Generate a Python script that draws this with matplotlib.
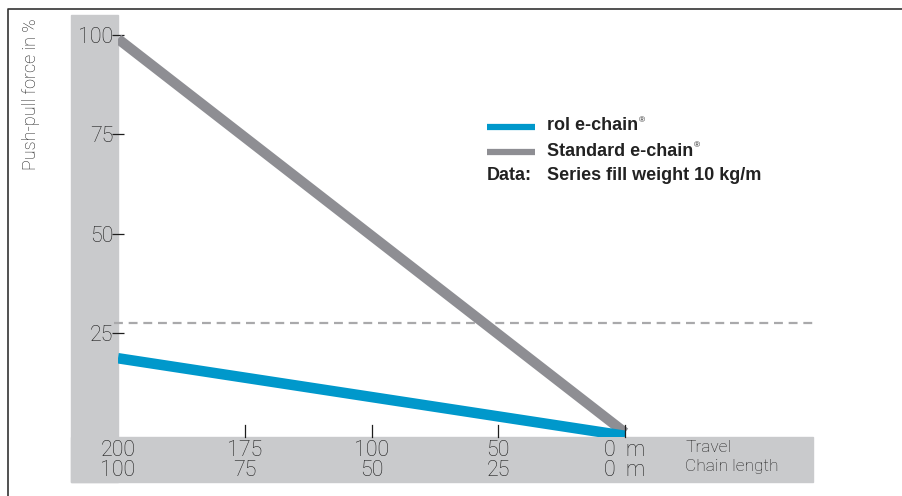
import matplotlib.pyplot as plt
from matplotlib.patches import Rectangle
from matplotlib.lines import Line2D
from matplotlib.transforms import blended_transform_factory

# data
x_pos = [0, 1, 2, 3, 4]
travel_labels = ["200", "175", "100", "50", "0  m"]
chain_labels = ["100", "75", "50", "25", "0  m"]
rol_x = [0, 4]
rol_force = [18.7, -0.8]
std_x = [0, 4]
std_force = [99, 0]
limit_force = 27.6
y_ticks = [25, 50, 75, 100]

W, H = 902, 496
BLUE = "#0098cb"
GREY = "#8e8e93"
BAND = "#c9cacc"
TXT = "#1e1e1e"
THIN = ["Roboto", "DejaVu Sans"]
LEG = "#222222"


def fx(px):
    return px / W


def fy(py):
    return 1 - py / H


fig = plt.figure(figsize=(W / 100, H / 100), dpi=100)
plt.rcParams["font.family"] = ["Liberation Sans", "DejaVu Sans"]

# grey bands behind the axes
fig.add_artist(Rectangle((fx(71), fy(482)), fx(118) - fx(71), fy(15) - fy(482),
                         transform=fig.transFigure, color=BAND, zorder=0))
fig.add_artist(Rectangle((fx(71), fy(482)), fx(813) - fx(71), fy(437) - fy(482),
                         transform=fig.transFigure, color=BAND, zorder=0))

# outer frame (top + left)
fig.add_artist(Line2D([fx(8), fx(8), 1], [0, fy(9), fy(9)], transform=fig.transFigure,
                      color="#333333", lw=1.2))

ax = fig.add_axes([fx(118), fy(437), fx(813) - fx(118), fy(15) - fy(437)])
ax.patch.set_alpha(0)
ax.set_xlim(0, (813 - 118) / 126.75)
ax.set_ylim(-1.1, 105.0)
for s in ax.spines.values():
    s.set_visible(False)

ax.axhline(limit_force, xmin=-0.006, color="#a9a9ab", lw=1.6, ls=(0, (4, 2.6)),
           clip_on=False, zorder=1)
ax.plot(std_x, std_force, color=GREY, lw=7.4, solid_capstyle="butt", zorder=2)
ax.plot(rol_x, rol_force, color=BLUE, lw=7.6, solid_capstyle="butt", zorder=3)

ax.set_yticks(y_ticks)
ax.set_yticklabels([str(v) for v in y_ticks], family=THIN, fontweight="light")
ax.tick_params(axis="y", direction="inout", length=8.5, width=0.9, color=TXT,
               labelsize=15.5, labelcolor=TXT, pad=-1)
ax.set_xticks([])

# x ticks as short marks crossing the band edge
for xp in x_pos[1:]:
    ax.plot([xp, xp], [2.0, -1.1], color=TXT, lw=0.9, clip_on=False, zorder=4)

tr = blended_transform_factory(ax.transData, fig.transFigure)
for xp, t1, t2 in zip(x_pos, travel_labels, chain_labels):
    ax.text(xp, fy(451), t1, transform=tr, ha="center", va="center",
            fontsize=15.5, color=TXT, family=THIN, fontweight="light")
    ax.text(xp, fy(470), t2, transform=tr, ha="center", va="center",
            fontsize=15.5, color=TXT, family=THIN, fontweight="light")

fig.text(fx(685), fy(448), "Travel", ha="left", va="center", fontsize=12.5,
         color=TXT, family=THIN, fontweight="light")
fig.text(fx(685), fy(467), "Chain length", ha="left", va="center", fontsize=12.5,
         color=TXT, family=THIN, fontweight="light")

fig.text(fx(31), fy(18), "Push-pull force in %", rotation=90, ha="center", va="top",
         fontsize=13, color=TXT, family=THIN, fontweight="light")

# legend
fig.add_artist(Line2D([fx(487), fx(535)], [fy(127), fy(127)], transform=fig.transFigure,
                      color=BLUE, lw=4.5, solid_capstyle="butt"))
fig.add_artist(Line2D([fx(487), fx(535)], [fy(152), fy(152)], transform=fig.transFigure,
                      color=GREY, lw=4.5, solid_capstyle="butt"))
leg_kw = dict(ha="left", va="center", fontsize=13, fontweight="bold", color=LEG)
t_rol = fig.text(fx(547), fy(126), "rol e-chain", **leg_kw)
t_std = fig.text(fx(547), fy(151), "Standard e-chain", **leg_kw)
fig.text(fx(487), fy(176), "Data:", **leg_kw)
fig.text(fx(547), fy(176), "Series fill weight 10 kg/m", **leg_kw)

fig.canvas.draw()
r = fig.canvas.get_renderer()
for t in (t_rol, t_std):
    bb = t.get_window_extent(r)
    fig.text((bb.x1 + 1) / W, (bb.y1 - 3) / H, "®", ha="left", va="center",
             fontsize=6, color=LEG)

fig.savefig("out.png", dpi=100)
